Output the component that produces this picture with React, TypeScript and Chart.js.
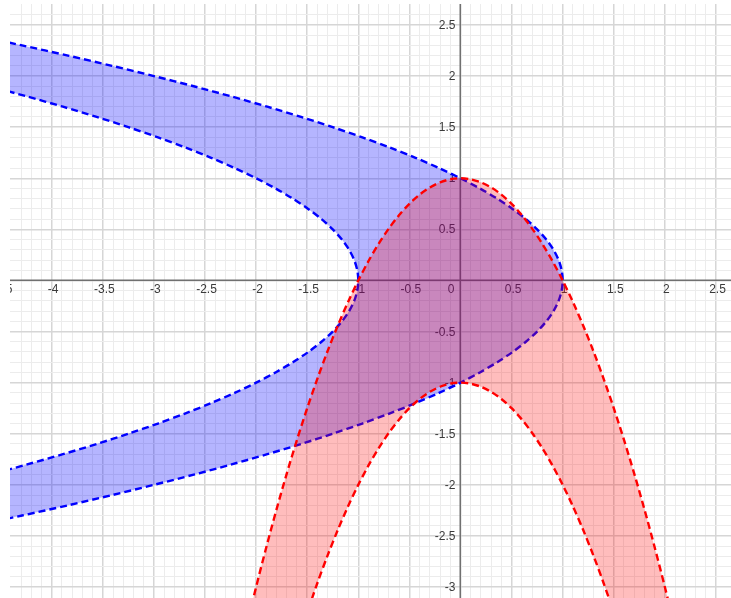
import React, { useEffect, useRef } from 'react';
import { Chart, registerables } from 'chart.js';

Chart.register(...registerables);

// Sample positions along each curve (x for the red curves, y for the blue curves)
const redX = [
  -2.4, -2.3, -2.2, -2.1, -2.0, -1.9, -1.8, -1.7, -1.6, -1.5, -1.4, -1.3, -1.2, -1.1, -1.0, -0.9, -0.8, -0.7, -0.6, -0.5,
  -0.4, -0.3, -0.2, -0.1, 0, 0.1, 0.2, 0.3, 0.4, 0.5, 0.6, 0.7, 0.8, 0.9, 1.0, 1.1, 1.2, 1.3, 1.4, 1.5, 1.6, 1.7, 1.8,
  1.9, 2.0, 2.1, 2.2, 2.3, 2.4,
];
// red upper boundary (y values at redX)
const redUpperY = [
  -4.76, -4.29, -3.84, -3.41, -3.0, -2.61, -2.24, -1.89, -1.56, -1.25, -0.96, -0.69, -0.44, -0.21, 0, 0.19, 0.36, 0.51,
  0.64, 0.75, 0.84, 0.91, 0.96, 0.99, 1.0, 0.99, 0.96, 0.91, 0.84, 0.75, 0.64, 0.51, 0.36, 0.19, 0, -0.21, -0.44, -0.69,
  -0.96, -1.25, -1.56, -1.89, -2.24, -2.61, -3.0, -3.41, -3.84, -4.29, -4.76,
];
// red lower boundary (y values at redX)
const redLowerY = [
  -6.76, -6.29, -5.84, -5.41, -5.0, -4.61, -4.24, -3.89, -3.56, -3.25, -2.96, -2.69, -2.44, -2.21, -2.0, -1.81, -1.64,
  -1.49, -1.36, -1.25, -1.16, -1.09, -1.04, -1.01, -1.0, -1.01, -1.04, -1.09, -1.16, -1.25, -1.36, -1.49, -1.64, -1.81,
  -2.0, -2.21, -2.44, -2.69, -2.96, -3.25, -3.56, -3.89, -4.24, -4.61, -5.0, -5.41, -5.84, -6.29, -6.76,
];

const blueY = [
  -2.4, -2.3, -2.2, -2.1, -2.0, -1.9, -1.8, -1.7, -1.6, -1.5, -1.4, -1.3, -1.2, -1.1, -1.0, -0.9, -0.8, -0.7, -0.6, -0.5,
  -0.4, -0.3, -0.2, -0.1, 0, 0.1, 0.2, 0.3, 0.4, 0.5, 0.6, 0.7, 0.8, 0.9, 1.0, 1.1, 1.2, 1.3, 1.4, 1.5, 1.6, 1.7, 1.8,
  1.9, 2.0, 2.1, 2.2, 2.3, 2.4,
];
// blue outer (right) boundary (x values at blueY)
const blueOuterX = [
  -4.76, -4.29, -3.84, -3.41, -3.0, -2.61, -2.24, -1.89, -1.56, -1.25, -0.96, -0.69, -0.44, -0.21, 0, 0.19, 0.36, 0.51,
  0.64, 0.75, 0.84, 0.91, 0.96, 0.99, 1.0, 0.99, 0.96, 0.91, 0.84, 0.75, 0.64, 0.51, 0.36, 0.19, 0, -0.21, -0.44, -0.69,
  -0.96, -1.25, -1.56, -1.89, -2.24, -2.61, -3.0, -3.41, -3.84, -4.29, -4.76,
];
// blue inner (left) boundary (x values at blueY)
const blueInnerX = [
  -6.76, -6.29, -5.84, -5.41, -5.0, -4.61, -4.24, -3.89, -3.56, -3.25, -2.96, -2.69, -2.44, -2.21, -2.0, -1.81, -1.64,
  -1.49, -1.36, -1.25, -1.16, -1.09, -1.04, -1.01, -1.0, -1.01, -1.04, -1.09, -1.16, -1.25, -1.36, -1.49, -1.64, -1.81,
  -2.0, -2.21, -2.44, -2.69, -2.96, -3.25, -3.56, -3.89, -4.24, -4.61, -5.0, -5.41, -5.84, -6.29, -6.76,
];

const xTickValues = [-4.5, -4, -3.5, -3, -2.5, -2, -1.5, -1, -0.5, 0, 0.5, 1, 1.5, 2, 2.5];
const xTickLabels = ['-4.5', '-4', '-3.5', '-3', '-2.5', '-2', '-1.5', '-1', '-0.5', '0', '0.5', '1', '1.5', '2', '2.5'];
const yTickValues = [2.5, 2, 1.5, 1, 0.5, -0.5, -1, -1.5, -2, -2.5, -3];
const yTickLabels = ['2.5', '2', '1.5', '1', '0.5', '-0.5', '-1', '-1.5', '-2', '-2.5', '-3'];

const X_MIN = -4.408;
const X_MAX = 2.647;
const Y_MIN = -3.107;
const Y_MAX = 2.705;

export default function App() {
  const ref = useRef<HTMLCanvasElement>(null);

  useEffect(() => {
    const canvas = ref.current;
    if (!canvas) return;

    const isMult = (v: number, step: number) => Math.abs(v / step - Math.round(v / step)) < 1e-6;
    const gridColor = (c: any) => {
      const v = c.tick ? c.tick.value : null;
      if (v == null) return 'rgba(0,0,0,0)';
      if (isMult(v, 0.5)) return '#d6d6d6';
      if (isMult(v, 0.1)) return '#ececec';
      return 'rgba(0,0,0,0)';
    };
    const gridWidth = (c: any) => {
      const v = c.tick ? c.tick.value : null;
      if (v == null) return 1;
      if (isMult(v, 0.5)) return 1.5;
      return 1;
    };

    const axesPlugin = {
      id: 'axesAndLabels',
      beforeDatasetsDraw(chart: any) {
        const { ctx, chartArea: a } = chart;
        const xs = chart.scales.x;
        const ys = chart.scales.y;
        const x0 = xs.getPixelForValue(0);
        const y0 = ys.getPixelForValue(0);
        ctx.save();
        ctx.beginPath();
        ctx.rect(a.left, a.top, a.right - a.left, a.bottom - a.top);
        ctx.clip();

        // axis lines
        ctx.strokeStyle = '#707070';
        ctx.lineWidth = 1.5;
        ctx.beginPath();
        ctx.moveTo(a.left, Math.round(y0) + 0.25);
        ctx.lineTo(a.right, Math.round(y0) + 0.25);
        ctx.moveTo(Math.round(x0) + 0.25, a.top);
        ctx.lineTo(Math.round(x0) + 0.25, a.bottom);
        ctx.stroke();

        // tick labels
        ctx.font = '12px "Liberation Sans", Arial, sans-serif';
        ctx.fillStyle = '#3a3a3a';
        ctx.textBaseline = 'alphabetic';
        xTickValues.forEach((v, i) => {
          if (v === 0) {
            ctx.textAlign = 'right';
            ctx.fillText(xTickLabels[i], x0 - 6, y0 + 13);
          } else {
            ctx.textAlign = 'center';
            ctx.fillText(xTickLabels[i], xs.getPixelForValue(v) + 1.5, y0 + 13);
          }
        });
        ctx.textAlign = 'right';
        yTickValues.forEach((v, i) => {
          ctx.fillText(yTickLabels[i], x0 - 5, ys.getPixelForValue(v) + 4);
        });
        ctx.restore();
      },
    };

    const lineCommon = {
      pointRadius: 0,
      pointHoverRadius: 0,
      borderWidth: 2.4,
      borderDash: [7, 4],
      tension: 0.3,
      capBezierPoints: false,
    };

    const chart = new Chart(canvas, {
      type: 'line',
      data: {
        datasets: [
          {
            label: 'red upper',
            data: redX.map((x, i) => ({ x, y: redUpperY[i] })),
            borderColor: '#ff0000',
            backgroundColor: 'rgba(255,0,0,0.26)',
            fill: false,
            ...lineCommon,
          },
          {
            label: 'red lower',
            data: redX.map((x, i) => ({ x, y: redLowerY[i] })),
            borderColor: '#ff0000',
            backgroundColor: 'rgba(255,0,0,0.26)',
            fill: '-1',
            ...lineCommon,
          },
          {
            label: 'blue outer',
            indexAxis: 'y',
            data: blueY.map((y, i) => ({ x: blueOuterX[i], y })),
            borderColor: '#0000ff',
            backgroundColor: 'rgba(0,0,255,0.29)',
            fill: false,
            ...lineCommon,
          },
          {
            label: 'blue inner',
            indexAxis: 'y',
            data: blueY.map((y, i) => ({ x: blueInnerX[i], y })),
            borderColor: '#0000ff',
            backgroundColor: 'rgba(0,0,255,0.29)',
            fill: '-1',
            ...lineCommon,
          },
        ] as any,
      },
      options: {
        animation: false,
        responsive: false,
        devicePixelRatio: 1,
        layout: { padding: { left: 10, top: 4, right: 0, bottom: 0 } },
        plugins: {
          legend: { display: false },
          tooltip: { enabled: false },
          filler: { drawTime: 'beforeDatasetDraw' },
        } as any,
        events: [],
        scales: {
          x: {
            type: 'linear',
            min: X_MIN,
            max: X_MAX,
            ticks: { display: false, stepSize: 0.1, autoSkip: false },
            grid: { color: gridColor, lineWidth: gridWidth, drawTicks: false },
            border: { display: false },
          },
          y: {
            type: 'linear',
            min: Y_MIN,
            max: Y_MAX,
            ticks: { display: false, stepSize: 0.1, autoSkip: false },
            grid: { color: gridColor, lineWidth: gridWidth, drawTicks: false },
            border: { display: false },
          },
        },
      } as any,
      plugins: [axesPlugin],
    });

    return () => chart.destroy();
  }, []);

  return (
    <div style={{ position: 'absolute', left: 0, top: 0, width: 731, height: 598, background: '#ffffff' }}>
      <canvas ref={ref} width={731} height={598} style={{ display: 'block' }} />
    </div>
  );
}
